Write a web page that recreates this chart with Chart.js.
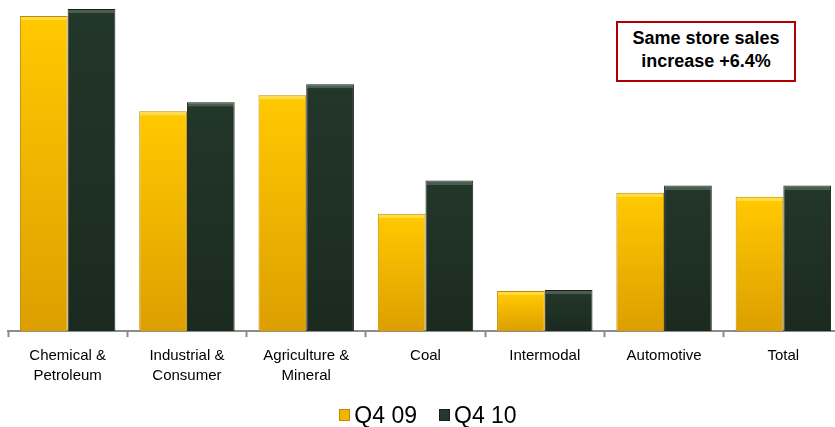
<!DOCTYPE html>
<html>
<head>
<meta charset="utf-8">
<script src="https://cdn.jsdelivr.net/npm/chart.js@4/dist/chart.umd.min.js"></script>
<style>
  html, body { margin: 0; padding: 0; background: #fff; overflow: hidden; }
  #wrap { position: relative; width: 850px; height: 427px; }
  #note {
    position: absolute; left: 616px; top: 21px; width: 176px; height: 53px;
    border: 2px solid #b00000; background: #fff;
    font: bold 18px "Liberation Sans", Arial, sans-serif; color: #000;
    text-align: center; line-height: 23px; padding-top: 4px; box-sizing: content-box;
  }
  #legend {
    position: absolute; left: 0; width: 856px; top: 401px; height: 28px;
    display: flex; justify-content: center; align-items: center;
    font: 23px "Liberation Sans", Arial, sans-serif; color: #000;
  }
  #legend span.item { display: flex; align-items: center; margin: 0 11px; }
  #legend span.box {
    display: inline-block; width: 11px; height: 12px; margin-right: 4px;
    box-sizing: border-box; border: 1px solid;
  }
</style>
</head>
<body>
<div id="wrap">
  <canvas id="chart" width="850" height="427"></canvas>
  <div id="note">Same store sales<br>increase +6.4%</div>
  <div id="legend"></div>
</div>
<script>
const categories = [
  ["Chemical &", "Petroleum"],
  ["Industrial &", "Consumer"],
  ["Agriculture &", "Mineral"],
  "Coal",
  "Intermodal",
  "Automotive",
  "Total"
];
const q409 = [314, 219, 235, 117, 40, 138, 134];
const q410 = [321, 228, 246, 150, 41, 145, 145];

// vertical gradient per bar, with a lighter bevel strip on top
function barFill(top, mid, bottom, edge) {
  return (ctx) => {
    const chart = ctx.chart;
    if (!chart.chartArea || ctx.parsed === undefined) return mid;
    const y = chart.scales.y;
    const yTop = y.getPixelForValue(ctx.parsed.y);
    const yBase = y.getPixelForValue(0);
    if (!isFinite(yTop) || yBase - yTop < 2) return mid;
    const g = chart.ctx.createLinearGradient(0, yTop, 0, yBase);
    const h = yBase - yTop;
    const b = Math.min(0.4, 4 / h);
    g.addColorStop(0, edge);
    g.addColorStop(b, edge);
    g.addColorStop(Math.min(0.5, b + 0.001), top);
    g.addColorStop(1, bottom);
    return g;
  };
}

const ctx = document.getElementById("chart").getContext("2d");
const chart = new Chart(ctx, {
  type: "bar",
  data: {
    labels: categories,
    datasets: [
      {
        label: "Q4 09",
        data: q409,
        backgroundColor: barFill("#ffc800", "#f4b800", "#dc9f00", "#ffdc40"),
        borderColor: "#c08a00",
        borderWidth: 1,
        barPercentage: 1,
        categoryPercentage: 0.8,
        legendFill: "#f2b600",
      },
      {
        label: "Q4 10",
        data: q410,
        backgroundColor: barFill("#23362a", "#203224", "#1b2a1f", "#4a5e50"),
        borderColor: "#142018",
        borderWidth: 1,
        barPercentage: 1,
        categoryPercentage: 0.8,
        legendFill: "#26382c",
      },
    ],
  },
  options: {
    responsive: false,
    animation: false,
    devicePixelRatio: 1,
    layout: { padding: { left: 8, right: 7, top: 0, bottom: 32 } },
    scales: {
      y: {
        display: false,
        min: 0,
        max: 330,
      },
      x: {
        grid: {
          display: true,
          offset: true,
          drawOnChartArea: false,
          color: "#8c8c8c",
          tickLength: 6,
          tickWidth: 2,
        },
        border: { display: true, color: "#8c8c8c", width: 2 },
        ticks: {
          color: "#000",
          font: { family: "'Liberation Sans', Arial, sans-serif", size: 15, lineHeight: 1.33 },
          padding: 9,
          maxRotation: 0,
          autoSkip: false,
        },
      },
    },
    plugins: {
      tooltip: { enabled: false },
      legend: { display: false },
    },
  },
});

// html legend from the datasets
const legendEl = document.getElementById("legend");
chart.data.datasets.forEach((ds) => {
  const item = document.createElement("span");
  item.className = "item";
  const box = document.createElement("span");
  box.className = "box";
  box.style.background = ds.legendFill;
  box.style.borderColor = ds.borderColor;
  item.appendChild(box);
  item.appendChild(document.createTextNode(ds.label));
  legendEl.appendChild(item);
});
</script>
</body>
</html>
